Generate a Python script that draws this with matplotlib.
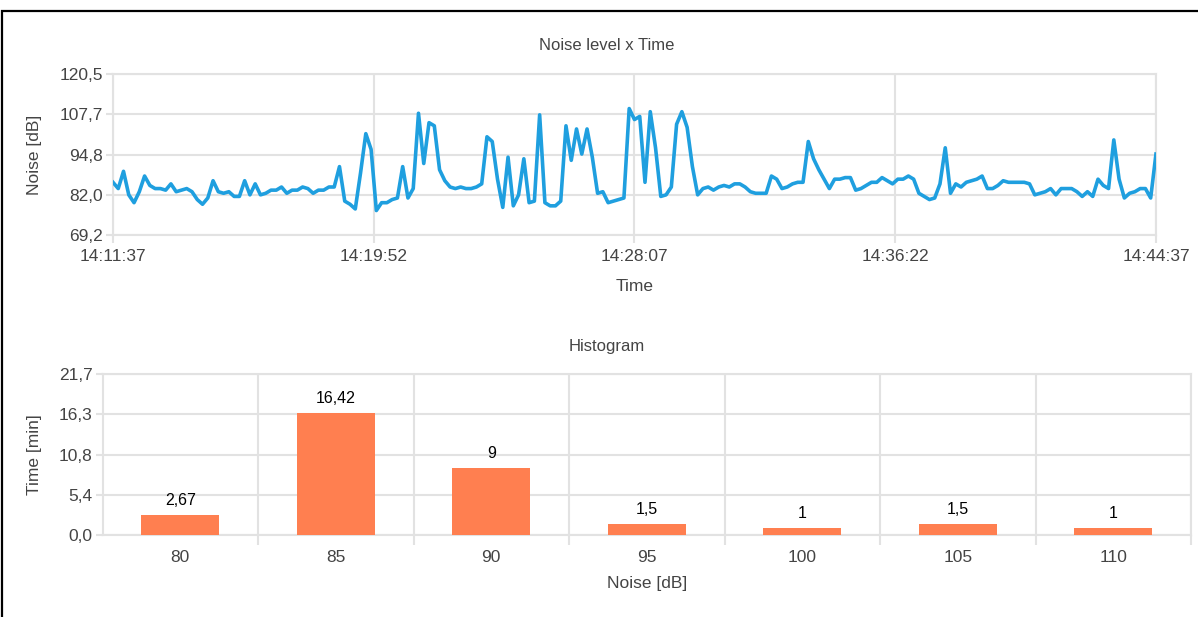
import numpy as np
import matplotlib
matplotlib.use("Agg")
import matplotlib.pyplot as plt
import matplotlib.patches as patches
from datetime import datetime, timedelta

# noise samples, one every 10 s starting at 14:11:37
start_time = "14:11:37"
step_s = 10
noise = [86, 84, 89.5, 82, 79.5, 83, 88, 85, 84, 84,
         83.5, 85.5, 83, 83.5, 84, 83, 80.5, 79, 81, 86.5,
         83, 82.5, 83, 81.5, 81.5, 86.5, 82, 85.5, 82, 82.5,
         83.5, 83.5, 84.5, 82.5, 83.5, 83.5, 84.5, 84, 82.5, 83.5,
         83.5, 84.5, 84.5, 91, 80, 79, 77.5, 89, 101.5, 96.5,
         77, 79.5, 79.5, 80.5, 81, 91, 81, 84, 108, 92,
         105, 104, 90, 86.5, 84.5, 84, 84.5, 84, 84, 84.5,
         85.5, 100.5, 99, 87, 78, 94, 78.5, 82, 93.5, 79.5,
         80, 107.5, 79.5, 78.5, 78.5, 80, 104, 93, 103, 95,
         103, 94, 82.5, 83, 79.5, 80, 80.5, 81, 109.5, 106,
         107, 86, 108.5, 97, 81.5, 82, 84.5, 104.5, 108.5, 103.5,
         91, 82, 84, 84.5, 83.5, 84.5, 85, 84.5, 85.5, 85.5,
         84.5, 83, 82.5, 82.5, 82.5, 88, 87, 84, 84.5, 85.5,
         86, 86, 99, 93.5, 90, 87, 84, 87, 87, 87.5,
         87.5, 83.5, 84, 85, 86, 86, 87.5, 86.5, 85.5, 87,
         87, 88, 87, 82.5, 81.5, 80.5, 81, 85.5, 97, 82.5,
         85.5, 84.5, 86, 86.5, 87, 88, 84, 84, 85, 86.5,
         86, 86, 86, 86, 85.5, 82, 82.5, 83, 84, 82,
         84, 84, 84, 83, 81.5, 83, 81.5, 87, 85, 84,
         99.5, 87, 81, 82.5, 83, 84, 84, 81, 95]

noise_ticks = [69.2, 82.0, 94.8, 107.7, 120.5]
time_tick_step = 495

# histogram
bins = ["80", "85", "90", "95", "100", "105", "110"]
minutes = [2.67, 16.42, 9, 1.5, 1, 1.5, 1]
minute_ticks = [0.0, 5.4, 10.8, 16.3, 21.7]

grid_c = "#e2e2e2"
text_c = "#444444"
plt.rcParams["font.family"] = ["Liberation Sans", "DejaVu Sans"]

fig = plt.figure(figsize=(11.98, 6.17), dpi=100, facecolor="white")

def fmt(v):
    return ("%.1f" % v).replace(".", ",")

def style(ax):
    for s in ax.spines.values():
        s.set_color(grid_c)
        s.set_linewidth(1.5)
    ax.grid(True, color=grid_c, linewidth=1.5)
    ax.set_axisbelow(True)
    ax.tick_params(colors=grid_c, labelcolor=text_c, labelsize=12.5, width=1.5)

# ---- top: noise level vs time
ax1 = fig.add_axes([0.0943, 0.6191, 0.8706, 0.2609])
t = np.arange(len(noise)) * step_s
ax1.plot(t, noise, color="#1f9fdf", linewidth=2.6, zorder=3)
t0 = datetime.strptime(start_time, "%H:%M:%S")
xt = np.arange(0, t[-1] + 1, time_tick_step)
ax1.set_xticks(xt)
ax1.set_xticklabels([(t0 + timedelta(seconds=int(s))).strftime("%H:%M:%S") for s in xt])
ax1.set_yticks(noise_ticks)
ax1.set_yticklabels([fmt(v) for v in noise_ticks])
ax1.set_xlim(0, t[-1])
ax1.set_ylim(noise_ticks[0], noise_ticks[-1])
style(ax1)
ax1.tick_params(axis="x", length=6, pad=4)
ax1.tick_params(axis="y", length=5, pad=2)
ax1.set_xlabel("Time", fontsize=12.5, color=text_c, labelpad=11)
fig.text(35 / 1198, 1 - 155 / 617, "Noise [dB]", rotation=90, fontsize=12.5,
         color=text_c, ha="center", va="center")
fig.text(607 / 1198, 1 - 46 / 617, "Noise level x Time", fontsize=12,
         color=text_c, ha="center", va="center")

# ---- bottom: histogram
ax2 = fig.add_axes([0.0856, 0.1329, 0.9086, 0.2609])
x = np.arange(len(bins))
bars = ax2.bar(x, minutes, width=0.5, color="#ff7f50", zorder=3)
for xi, v in zip(x, minutes):
    lab = ("%g" % v).replace(".", ",")
    ax2.annotate(lab, (xi, v), xytext=(0, 5), textcoords="offset points",
                 ha="center", va="bottom", fontsize=11.5, color="black")
ax2.set_xlim(-0.5, len(bins) - 0.5)
ax2.set_ylim(minute_ticks[0], minute_ticks[-1])
ax2.set_xticks(x)
ax2.set_xticklabels(bins)
ax2.set_xticks(np.arange(len(bins)) + 0.5, minor=True)
ax2.set_yticks(minute_ticks)
ax2.set_yticklabels([fmt(v) for v in minute_ticks])
style(ax2)
ax2.grid(False, axis="x", which="major")
ax2.grid(True, axis="x", which="minor", color=grid_c, linewidth=1.5)
ax2.tick_params(axis="x", which="major", length=0, pad=11)
ax2.tick_params(axis="x", which="minor", length=7, color=grid_c, width=1.5)
ax2.tick_params(axis="y", length=5, pad=2)
ax2.set_xlabel("Noise [dB]", fontsize=12.5, color=text_c, labelpad=8)
fig.text(35 / 1198, 1 - 455 / 617, "Time [min]", rotation=90, fontsize=12.5,
         color=text_c, ha="center", va="center")
fig.text(607 / 1198, 1 - 347 / 617, "Histogram", fontsize=12,
         color=text_c, ha="center", va="center")

# frame around the whole thing
frame = patches.Rectangle((2 / 1198, -0.1), 1.2, 1 - 11 / 617 + 0.1,
                          transform=fig.transFigure, fill=False,
                          edgecolor="black", linewidth=1.6)
fig.add_artist(frame)

fig.savefig("out.png", dpi=100, facecolor="white")
